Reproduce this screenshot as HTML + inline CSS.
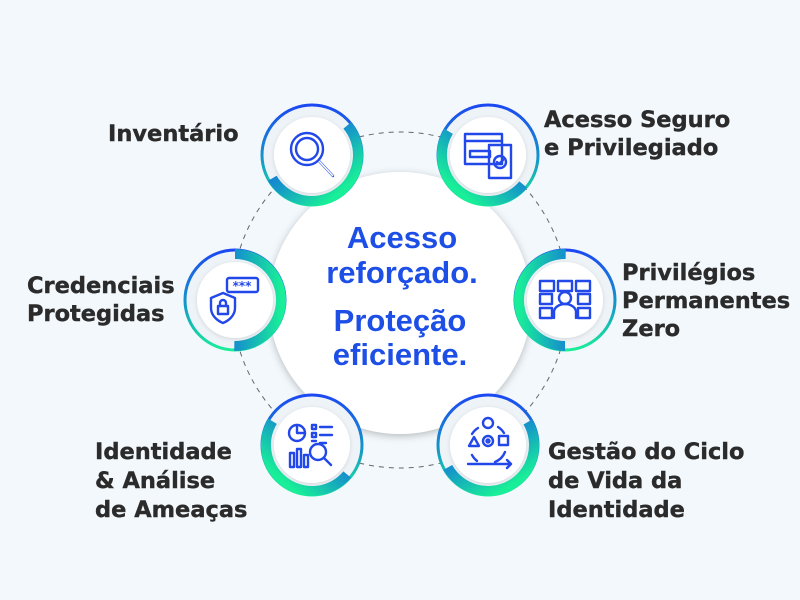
<!DOCTYPE html>
<html><head><meta charset="utf-8"><style>
html,body{margin:0;padding:0;background:#f2f8fc;}
svg{display:block}
.lb{font-family:"DejaVu Sans","Liberation Sans",sans-serif;font-weight:bold;font-size:22.5px;fill:#2b2b2b;stroke:#2b2b2b;stroke-width:0.4px;}
.ct{font-family:"Liberation Sans","DejaVu Sans",sans-serif;font-weight:bold;font-size:31px;fill:#1d4fe6;text-anchor:middle;}
.ic{fill:none;stroke:#2248ea;stroke-width:2.4;stroke-linecap:round;stroke-linejoin:round}
</style></head><body>
<svg width="800" height="600" viewBox="0 0 800 600" xmlns="http://www.w3.org/2000/svg">
<defs>
<linearGradient id="g" x1="0" y1="0" x2="0" y2="1">
<stop offset="0" stop-color="#1c48f2"/><stop offset="0.55" stop-color="#1598c8"/><stop offset="1" stop-color="#19ee98"/>
</linearGradient>
<filter id="sh" x="-20%" y="-20%" width="140%" height="140%"><feDropShadow dx="0" dy="2" stdDeviation="4" flood-color="#000" flood-opacity="0.25"/></filter>
<filter id="sh2" x="-20%" y="-20%" width="140%" height="140%"><feDropShadow dx="0" dy="1" stdDeviation="2" flood-color="#000" flood-opacity="0.12"/></filter>
</defs>
<rect width="800" height="600" fill="#f2f8fc"/>
<circle cx="400" cy="300" r="168" fill="none" stroke="#666" stroke-width="1" stroke-dasharray="5 5"/>
<circle cx="400" cy="303" r="131" fill="#fff" filter="url(#sh)"/>
<text class="ct" x="402" y="248">Acesso</text>
<text class="ct" x="402" y="283">reforçado.</text>
<text class="ct" x="400" y="331">Proteção</text>
<text class="ct" x="400" y="365">eficiente.</text>

<g>
<circle cx="312" cy="155" r="50" fill="#eef3f7" stroke="url(#g)" stroke-width="3"/>
<circle cx="312" cy="155" r="46" fill="none" stroke="url(#g)" stroke-width="10" stroke-dasharray="152 400" transform="rotate(-40 312 155)"/>
<circle cx="312" cy="155" r="38" fill="#fff" filter="url(#sh2)"/>
<circle class="ic" cx="307" cy="149" r="16"/><circle class="ic" cx="307" cy="149" r="11"/>
<path class="ic" d="M319 161 L333 176" stroke-width="5"/><path d="M319 161 L333 176" stroke="#fff" stroke-width="1.5"/>
</g>
<g>
<circle cx="488" cy="155" r="50" fill="#eef3f7" stroke="url(#g)" stroke-width="3"/>
<circle cx="488" cy="155" r="46" fill="none" stroke="url(#g)" stroke-width="10" stroke-dasharray="137 400" transform="rotate(40 488 155)"/>
<circle cx="488" cy="155" r="38" fill="#fff" filter="url(#sh2)"/>
<rect class="ic" x="465" y="134" width="37" height="30"/><path class="ic" d="M465 141 H502"/>
<rect class="ic" x="470" y="151" width="20" height="6"/>
<rect class="ic" x="489" y="145" width="22" height="33" fill="#fff"/>
<circle class="ic" cx="500" cy="162" r="6"/><path class="ic" d="M497 162 l2 2 l4 -4"/>
</g>
<g>
<circle cx="235" cy="300" r="50" fill="#eef3f7" stroke="url(#g)" stroke-width="3"/>
<circle cx="235" cy="300" r="46" fill="none" stroke="url(#g)" stroke-width="10" stroke-dasharray="145 400" transform="rotate(-90 235 300)"/>
<circle cx="235" cy="300" r="38" fill="#fff" filter="url(#sh2)"/>
<rect class="ic" x="227" y="278" width="31" height="14" rx="2"/>
<text x="242" y="290" font-size="12" font-weight="bold" fill="#2248ea" text-anchor="middle" font-family="DejaVu Sans,sans-serif">***</text>
<path class="ic" d="M223 293 L211 298 V308 C211 316 218 321 223 323 C228 321 235 316 235 308 V298 Z"/>
<rect class="ic" x="218" y="306" width="10" height="8"/><path class="ic" d="M220 306 v-3 a3 3 0 0 1 6 0 v3"/>
</g>
<g>
<circle cx="565" cy="300" r="50" fill="#eef3f7" stroke="url(#g)" stroke-width="3"/>
<circle cx="565" cy="300" r="46" fill="none" stroke="url(#g)" stroke-width="10" stroke-dasharray="145 400" transform="rotate(90 565 300)"/>
<circle cx="565" cy="300" r="38" fill="#fff" filter="url(#sh2)"/>
<rect class="ic" x="540" y="281" width="14" height="10"/><rect class="ic" x="558" y="281" width="14" height="10"/><rect class="ic" x="576" y="281" width="14" height="10"/>
<rect class="ic" x="540" y="294" width="12" height="10"/><rect class="ic" x="578" y="294" width="12" height="10"/>
<circle class="ic" cx="565" cy="298" r="6"/><path class="ic" d="M554 318 v-6 a11 8 0 0 1 22 0 v6"/>
<rect class="ic" x="540" y="308" width="12" height="10"/><rect class="ic" x="578" y="308" width="12" height="10"/>
</g>
<g>
<circle cx="312" cy="445" r="50" fill="#eef3f7" stroke="url(#g)" stroke-width="3"/>
<circle cx="312" cy="445" r="46" fill="none" stroke="url(#g)" stroke-width="10" stroke-dasharray="137 400" transform="rotate(40 312 445)"/>
<circle cx="312" cy="445" r="38" fill="#fff" filter="url(#sh2)"/>
<circle class="ic" cx="297" cy="433" r="8"/><path class="ic" d="M297 425 V433 H305"/>
<path class="ic" d="M312 425 h4 v4 h-4z M320 427 h12 M312 433 h4 v4 h-4z M320 435 h12 M312 441 h4 M320 443 h6"/>
<path class="ic" d="M290 467 v-14 h4 v14z M297 467 v-18 h4 v18z M304 467 v-12 h4 v12z"/>
<circle class="ic" cx="318" cy="452" r="8"/><path class="ic" d="M324 458 l7 7"/>
</g>
<g>
<circle cx="488" cy="445" r="50" fill="#eef3f7" stroke="url(#g)" stroke-width="3"/>
<circle cx="488" cy="445" r="46" fill="none" stroke="url(#g)" stroke-width="10" stroke-dasharray="145 400" transform="rotate(-30 488 445)"/>
<circle cx="488" cy="445" r="38" fill="#fff" filter="url(#sh2)"/>
<circle class="ic" cx="488" cy="423" r="5"/>
<circle class="ic" cx="488" cy="441" r="5"/><circle class="ic" cx="488" cy="441" r="1.5"/>
<path class="ic" d="M469 446 l5 -9 l5 9 z"/><rect class="ic" x="499" y="436" width="9" height="9"/>
<path class="ic" d="M478 428 a18 18 0 0 0 -6 6 M498 427 a18 18 0 0 1 6 6 M505 452 a18 18 0 0 1 -10 10 M477 461 a18 18 0 0 1 -5 -6"/>
<path class="ic" d="M468 464 H511 M507 460 l4 4 l-4 4"/>
</g>

<text class="lb" x="108" y="141">Inventário</text>
<text class="lb" x="544" y="127">Acesso Seguro</text>
<text class="lb" x="544" y="155">e Privilegiado</text>
<text class="lb" x="27" y="293">Credenciais</text>
<text class="lb" x="27" y="321">Protegidas</text>
<text class="lb" x="622" y="280">Privilégios</text>
<text class="lb" x="622" y="308">Permanentes</text>
<text class="lb" x="622" y="336">Zero</text>
<text class="lb" x="95" y="459">Identidade</text>
<text class="lb" x="95" y="488">&amp; Análise</text>
<text class="lb" x="95" y="517">de Ameaças</text>
<text class="lb" x="548" y="459">Gestão do Ciclo</text>
<text class="lb" x="548" y="488">de Vida da</text>
<text class="lb" x="548" y="517">Identidade</text>
</svg>
</body></html>
